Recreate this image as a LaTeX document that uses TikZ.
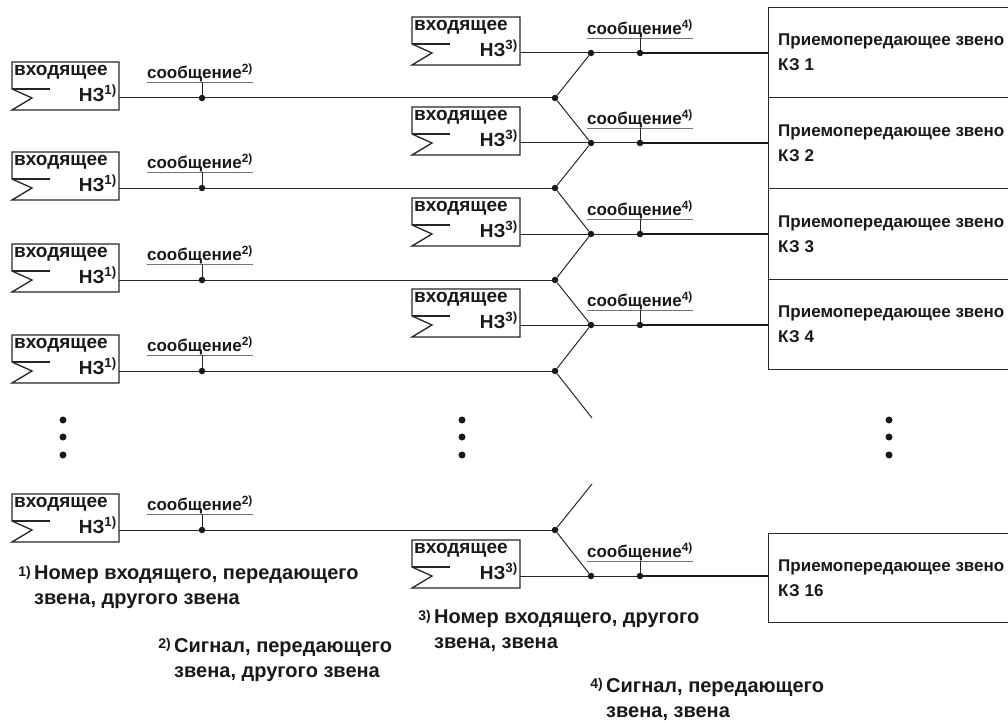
\documentclass[tikz,border=0pt]{standalone}
\usepackage{fontspec}
\setmainfont{Liberation Sans}
\begin{document}
\begin{tikzpicture}[x=1pt,y=-1pt,
  bus/.style={line width=1pt, draw=black!85},
  busheavy/.style={line width=1.4pt, draw=black!90},
  frame/.style={line width=1.3pt, draw=black!85},
  uline/.style={line width=0.8pt, draw=black!55},
  jdot/.style={circle, fill=black!90, inner sep=0pt, minimum size=6.5pt},
  edot/.style={circle, fill=black!90, inner sep=0pt, minimum size=7pt},
  lbl/.style={font=\bfseries\fontsize{17}{25}\selectfont, inner sep=0pt, text=black!90},
  boxlbl/.style={font=\bfseries\fontsize{19}{23}\selectfont, inner sep=0pt, text=black!90},
  notelbl/.style={font=\bfseries\fontsize{20}{25}\selectfont, inner sep=0pt, text=black!90},
  notemark/.style={font=\bfseries\fontsize{14}{16}\selectfont, inner sep=0pt, text=black!90},
  rbox/.style={frame, draw, inner sep=0pt, anchor=north west, minimum width=246pt},
]
\useasboundingbox (0,0) rectangle (1008,722);

% ---------- left column ----------
\foreach \y [count=\i] in {98,188,280,371,530} {
  \draw[frame] (12,\y-36) -- (119,\y-36) -- (119,\y+12) -- (12,\y+12) -- (32,\y) -- (12,\y-9) -- cycle;
  \draw[frame] (12,\y-9) -- (50,\y-9);
  \node[boxlbl, anchor=north west] (lta\i) at (14,\y-33) {входящее};
  \node[boxlbl, anchor=north east] (ltb\i) at (117,\y-13) {НЗ\textsuperscript{1)}};
  \coordinate (lo\i) at (119,\y);
  \node[lbl, anchor=south] (ls\i) at (200,\y-16) {сообщение\textsuperscript{2)}};
  \draw[uline] (ls\i.south west) -- (ls\i.south east);
  \node[jdot] (lk\i) at (202,\y) {};
  \node[jdot] (lj\i) at (555,\y) {};
  \draw[bus] (lk\i |- ls\i.south) -- (lk\i);
  \draw[bus] (lo\i) -- (lk\i) -- (lj\i);
}

% ---------- right boxes ----------
\node[rbox, minimum height=90pt] (r1) at (768,7) {};
\node[rbox, minimum height=91pt] (r2) at (768,97) {};
\node[rbox, minimum height=91pt] (r3) at (768,188) {};
\node[rbox, minimum height=90pt] (r4) at (768,279) {};
\node[rbox, minimum height=89pt] (r5) at (768,533) {};
\foreach \i/\t in {1/1,2/2,3/3,4/4,5/16} {
  \node[lbl, anchor=west, align=left] (rt\i) at ([xshift=10pt]r\i.west) {Приемопередающее звено\\КЗ \t};
}

% ---------- middle column ----------
\foreach \y [count=\i] in {53,143,234,325,576} {
  \draw[frame] (412,\y-36) -- (520,\y-36) -- (520,\y+12) -- (412,\y+12) -- (432,\y) -- (412,\y-9) -- cycle;
  \draw[frame] (412,\y-9) -- (450,\y-9);
  \node[boxlbl, anchor=north west] (mta\i) at (414,\y-33) {входящее};
  \node[boxlbl, anchor=north east] (mtb\i) at (518,\y-13) {НЗ\textsuperscript{3)}};
  \coordinate (mo\i) at (520,\y);
  \node[lbl, anchor=south] (ms\i) at (640,\y-15) {сообщение\textsuperscript{4)}};
  \draw[uline] (ms\i.south west) -- (ms\i.south east);
  \node[jdot] (mj\i) at (591,\y) {};
  \node[jdot] (mk\i) at (640,\y) {};
  \draw[bus] (mk\i |- ms\i.south) -- (mk\i);
  \draw[bus] (mo\i) -- (mj\i) -- (mk\i);
  \draw[busheavy] (mk\i) -- (r\i.west |- mk\i);
}

% ---------- crossing connectors ----------
\coordinate (c1) at (592,418);
\coordinate (c2) at (592,484);
\draw[bus] (lj1) -- (mj1);
\draw[bus] (lj1) -- (mj2);
\draw[bus] (lj2) -- (mj2);
\draw[bus] (lj2) -- (mj3);
\draw[bus] (lj3) -- (mj3);
\draw[bus] (lj3) -- (mj4);
\draw[bus] (lj4) -- (mj4);
\draw[bus] (lj4) -- (c1);
\draw[bus] (c2) -- (lj5);
\draw[bus] (lj5) -- (mj5);

% ---------- ellipses ----------
\foreach \x [count=\k] in {63,462,889} {
  \node[edot] (ea\k) at (\x,420) {};
  \node[edot] (eb\k) at (\x,437) {};
  \node[edot] (ec\k) at (\x,455) {};
}

% ---------- footnotes ----------
\node[notelbl, anchor=north west, align=left] (f1) at (34,566) {Номер входящего, передающего\\звена, другого звена};
\node[notemark, anchor=north east] (f1m) at ([xshift=-3pt]f1.north west) {1)};
\node[notelbl, anchor=north west, align=left] (f2) at (174,638) {Сигнал, передающего\\звена, другого звена};
\node[notemark, anchor=north east] (f2m) at ([xshift=-3pt]f2.north west) {2)};
\node[notelbl, anchor=north west, align=left] (f3) at (434,610) {Номер входящего, другого\\звена, звена};
\node[notemark, anchor=north east] (f3m) at ([xshift=-3pt]f3.north west) {3)};
\node[notelbl, anchor=north west, align=left] (f4) at (606,678) {Сигнал, передающего\\звена, звена};
\node[notemark, anchor=north east] (f4m) at ([xshift=-3pt]f4.north west) {4)};
\end{tikzpicture}
\end{document}
